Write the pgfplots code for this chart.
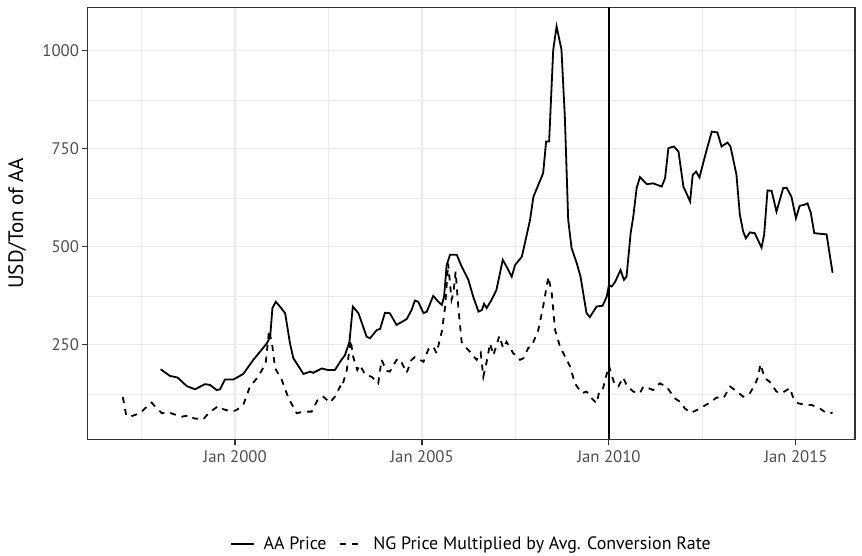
\documentclass[border=0pt]{standalone}
\usepackage{pgfplots}
\pgfplotsset{compat=1.18}
\usepackage{fontspec}
\setmainfont{PT Sans}
\definecolor{gridgrey}{RGB}{235,235,235}
\definecolor{bordergrey}{RGB}{51,51,51}
\definecolor{ticklab}{RGB}{77,77,77}
\begin{document}
\begin{tikzpicture}
\begin{axis}[
  scale only axis, width=767.3bp, height=432bp,
  xmin=1996.06, xmax=2016.58, ymin=9.4, ymax=1111,
  axis line style={draw=bordergrey, line width=1.07bp},
  xtick={2000,2005,2010,2015},
  xticklabels={Jan 2000,Jan 2005,Jan 2010,Jan 2015},
  minor xtick={1997.5,2002.5,2007.5,2012.5},
  ytick={250,500,750,1000},
  minor ytick={125,375,625,875},
  grid=both,
  major grid style={draw=gridgrey, line width=1.07bp},
  minor grid style={draw=gridgrey, line width=0.55bp},
  tick align=outside, tick pos=left,
  major tick length=5.3bp, minor tick length=0bp,
  every tick/.style={draw=bordergrey, line width=1.07bp},
  /pgf/number format/assume math mode=true,
  /pgf/number format/1000 sep={},
  ticklabel style={font=\fontsize{16.8}{19}\selectfont, text=ticklab},
  xticklabel style={yshift=-2bp},
  ylabel={USD/Ton of AA},
  ylabel style={font=\fontsize{21}{24}\selectfont, at={(axis description cs:-0.092,0.5)}, anchor=center},
  legend columns=2,
  legend style={at={(0.5,-0.243)}, anchor=center, draw=none, fill=none,
    font=\fontsize{18}{21}\selectfont,
    /tikz/every odd column/.append style={column sep=7bp},
    /tikz/every even column/.append style={column sep=11bp}},
  legend image code/.code={\draw[#1] (0bp,0bp) -- (23bp,0bp);},
]
\addplot[black, line width=1.8bp] coordinates {
(1998.01,188) (1998.26,171) (1998.46,167) (1998.71,145) (1998.93,137) (1999.2,150)
(1999.33,148) (1999.51,135) (1999.6,137) (1999.73,162) (1999.96,162) (2000.22,176)
(2000.49,212) (2000.85,254) (2000.94,271) (2001.0,344) (2001.09,360) (2001.2,348)
(2001.34,331) (2001.47,254) (2001.56,216) (2001.83,176) (2002.01,182) (2002.09,179)
(2002.32,190) (2002.49,186) (2002.67,186) (2002.81,207) (2002.94,224) (2003.06,258)
(2003.15,348) (2003.3,331) (2003.52,271) (2003.61,267) (2003.79,288) (2003.88,291)
(2004.01,332) (2004.14,331) (2004.32,301) (2004.59,316) (2004.72,339) (2004.81,363)
(2004.9,360) (2005.04,331) (2005.13,335) (2005.3,375) (2005.44,360) (2005.53,352)
(2005.59,373) (2005.66,454) (2005.75,480) (2005.93,480) (2006.06,450) (2006.15,433)
(2006.24,416) (2006.37,373) (2006.51,335) (2006.6,339) (2006.66,355) (2006.73,344)
(2006.86,365) (2006.99,390) (2007.16,467) (2007.26,450) (2007.4,424) (2007.49,454)
(2007.67,475) (2007.75,509) (2007.89,569) (2007.98,628) (2008.11,658) (2008.24,688)
(2008.32,769) (2008.4,769) (2008.51,1003) (2008.6,1062) (2008.73,1003) (2008.82,832)
(2008.91,569) (2009.0,497) (2009.14,458) (2009.24,424) (2009.4,331) (2009.49,321)
(2009.67,348) (2009.83,350) (2009.94,373) (2010.0,403) (2010.07,399) (2010.16,410)
(2010.31,441) (2010.4,416) (2010.47,424) (2010.58,535) (2010.65,577) (2010.74,650)
(2010.83,678) (2011.01,660) (2011.18,662) (2011.41,654) (2011.5,675) (2011.59,752)
(2011.74,756) (2011.86,743) (2011.99,654) (2012.17,616) (2012.24,684) (2012.33,692)
(2012.42,677) (2012.6,743) (2012.75,794) (2012.9,792) (2013.01,756) (2013.17,766)
(2013.25,756) (2013.41,684) (2013.5,582) (2013.59,539) (2013.66,522) (2013.77,537)
(2013.9,535) (2014.08,498) (2014.15,531) (2014.24,644) (2014.35,643) (2014.48,590)
(2014.66,650) (2014.75,651) (2014.88,628) (2015.0,573) (2015.1,605) (2015.21,607)
(2015.31,611) (2015.4,586) (2015.49,535) (2015.82,532) (2015.98,434)
};
\addlegendentry{AA Price}
\addplot[black, line width=1.8bp, dash pattern=on 6bp off 6bp] coordinates {
(1997.0,117) (1997.09,71) (1997.19,67) (1997.46,76) (1997.59,88) (1997.77,103)
(1997.86,93) (1998.04,76) (1998.22,78) (1998.44,71) (1998.57,67) (1998.8,71)
(1998.89,63) (1999.15,60) (1999.29,76) (1999.55,94) (1999.69,86) (1999.91,80)
(2000.04,84) (2000.22,97) (2000.4,144) (2000.62,169) (2000.82,203) (2000.91,288)
(2001.0,246) (2001.07,191) (2001.25,161) (2001.43,114) (2001.65,76) (2001.83,80)
(2002.05,80) (2002.23,114) (2002.36,118) (2002.54,103) (2002.67,118) (2002.81,144)
(2002.85,140) (2002.99,186) (2003.09,263) (2003.16,220) (2003.27,186) (2003.34,199)
(2003.48,174) (2003.65,169) (2003.83,152) (2003.92,212) (2004.05,184) (2004.14,182)
(2004.32,212) (2004.41,214) (2004.59,179) (2004.72,212) (2004.81,219) (2005.04,207)
(2005.17,239) (2005.3,246) (2005.39,229) (2005.53,284) (2005.62,348) (2005.7,458)
(2005.79,365) (2005.84,382) (2005.9,437) (2005.97,348) (2006.06,258) (2006.15,246)
(2006.28,233) (2006.46,212) (2006.57,230) (2006.64,169) (2006.73,207) (2006.82,254)
(2006.91,224) (2007.07,273) (2007.17,242) (2007.26,258) (2007.44,229) (2007.62,212)
(2007.71,216) (2007.84,242) (2007.93,246) (2008.11,288) (2008.24,348) (2008.38,424)
(2008.47,382) (2008.56,288) (2008.69,246) (2008.78,229) (2008.96,195) (2009.09,152)
(2009.27,127) (2009.4,131) (2009.54,114) (2009.67,101) (2009.74,131) (2009.83,135)
(2009.92,169) (2010.0,197) (2010.07,173) (2010.16,148) (2010.25,144) (2010.38,167)
(2010.47,148) (2010.56,139) (2010.65,131) (2010.83,127) (2010.92,144) (2011.05,140)
(2011.18,135) (2011.36,152) (2011.54,144) (2011.76,114) (2011.9,105) (2012.03,88)
(2012.19,77) (2012.35,84) (2012.52,93) (2012.7,103) (2012.88,116) (2013.06,114)
(2013.24,144) (2013.37,135) (2013.59,118) (2013.77,127) (2013.9,148) (2013.99,169)
(2014.05,201) (2014.17,165) (2014.3,156) (2014.48,131) (2014.62,127) (2014.84,140)
(2014.93,114) (2015.06,101) (2015.29,97) (2015.42,97) (2015.64,88) (2015.82,76)
(2015.98,77)
};
\addlegendentry{NG Price Multiplied by Avg. Conversion Rate}
\addplot[black, line width=1.8bp, forget plot] coordinates {(2010,9.4) (2010,1111)};
\end{axis}
\path ([shift={(-87.7bp,-115.7bp)}]current axis.south west) rectangle ([shift={(7bp,7.3bp)}]current axis.north east);
\end{tikzpicture}
\end{document}
